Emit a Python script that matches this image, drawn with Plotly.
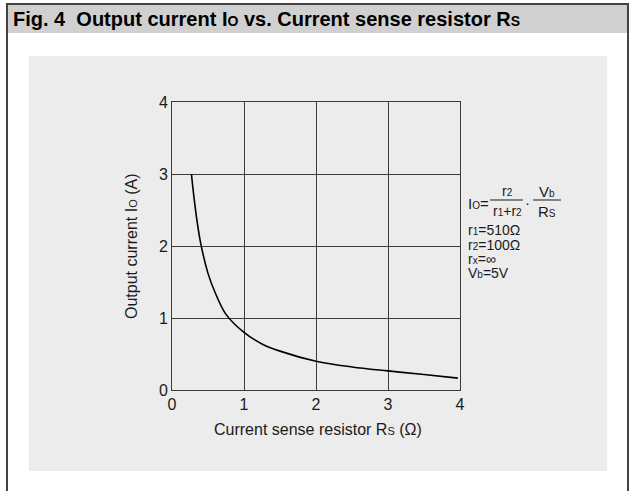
import plotly.graph_objects as go

# Data
rs_ohm = [0.27, 0.30, 0.35, 0.40, 0.50, 0.60, 0.75, 1.0, 1.25, 1.5, 2.0, 2.5, 3.0, 3.5, 3.97]
io_amp = [3.00, 2.72, 2.33, 2.03, 1.62, 1.35, 1.05, 0.80, 0.64, 0.54, 0.40, 0.32, 0.265, 0.215, 0.165]
x_ticks = [0, 1, 2, 3, 4]
y_ticks = [0, 1, 2, 3, 4]

W, H = 631, 491
FONT = "Liberation Sans, Arial, sans-serif"


def px(x):
    return x / W


def py(y):
    return 1 - y / H


fig = go.Figure()
fig.add_trace(go.Scatter(x=rs_ohm, y=io_amp, mode="lines",
                         line=dict(color="black", width=1.6, shape="spline"),
                         hoverinfo="skip"))

axis_common = dict(showgrid=True, gridcolor="#3a3a3a", gridwidth=1,
                   showline=True, linecolor="#3a3a3a", linewidth=1, mirror=True,
                   zeroline=False, ticks="", automargin=False,
                   tickfont=dict(family=FONT, size=16, color="#1a1a1a"))

fig.update_layout(
    width=W, height=H,
    margin=dict(l=0, r=0, t=0, b=0),
    paper_bgcolor="white", plot_bgcolor="white",
    showlegend=False,
    xaxis=dict(range=[0, 4], tickvals=x_ticks, domain=[px(172), px(460)], **axis_common),
    yaxis=dict(range=[0, 4], tickvals=y_ticks, domain=[py(390), py(102)], **axis_common),
)

shapes = [
    # inner gray panel
    dict(type="rect", xref="paper", yref="paper", x0=px(29), x1=px(607), y0=py(471), y1=py(56),
         fillcolor="#ececec", line=dict(width=0), layer="below"),
    # title band
    dict(type="rect", xref="paper", yref="paper", x0=px(6), x1=px(628), y0=py(33), y1=py(4),
         fillcolor="#d0d0d0", line=dict(width=0), layer="below"),
    # frame lines
    dict(type="line", xref="paper", yref="paper", x0=px(6), x1=px(629), y0=py(4), y1=py(4),
         line=dict(color="#444", width=2)),
    dict(type="line", xref="paper", yref="paper", x0=px(7), x1=px(7), y0=py(4), y1=py(491),
         line=dict(color="#444", width=2)),
    dict(type="line", xref="paper", yref="paper", x0=px(628), x1=px(628), y0=py(4), y1=py(491),
         line=dict(color="#444", width=2)),
    # fraction bars
    dict(type="line", xref="paper", yref="paper", x0=px(490), x1=px(523), y0=py(200), y1=py(200),
         line=dict(color="#1a1a1a", width=1)),
    dict(type="line", xref="paper", yref="paper", x0=px(533), x1=px(561), y0=py(200), y1=py(200),
         line=dict(color="#1a1a1a", width=1)),
]
fig.update_layout(shapes=shapes)

S = "<span style='font-size:10px'>%s</span>"
S16 = "<span style='font-size:11px'>%s</span>"


def ann(text, x, y, size=15, xanchor="left", color="#1a1a1a"):
    fig.add_annotation(text=text, xref="paper", yref="paper", x=px(x), y=py(y),
                       xanchor=xanchor, yanchor="middle", showarrow=False,
                       font=dict(family=FONT, size=size, color=color))


# Title
ann("<b>Fig. 4  Output current I<span style='font-size:14px'>O</span> vs. Current sense resistor R<span style='font-size:14px'>S</span></b>",
    11, 19, size=20, color="black")

# Axis titles
ann("Current sense resistor R" + S16 % "S" + " (Ω)", 318, 429, size=16, xanchor="center")
fig.add_annotation(text="Output current I" + S16 % "O" + " (A)", xref="paper", yref="paper",
                   x=px(132), y=py(246), textangle=-90, showarrow=False,
                   xanchor="center", yanchor="middle",
                   font=dict(family=FONT, size=16, color="#1a1a1a"))

# Formula
ann("I" + S % "O" + "=", 466, 203)
ann("r" + S % "2", 507, 191, xanchor="center", size=14)
ann("r" + S % "1" + "+r" + S % "2", 507, 211, xanchor="center", size=14)
ann("·", 527, 202, xanchor="center")
ann("V" + S % "b", 547, 191, xanchor="center")
ann("R" + S % "S", 547, 211, xanchor="center")
ann("r" + S % "1" + "=510Ω", 466, 230, size=14)
ann("r" + S % "2" + "=100Ω", 466, 245, size=14)
ann("r" + S % "x" + "=∞", 466, 259, size=14)
ann("V" + S % "b" + "=5V", 466, 273, size=14)

fig.write_html("out.html", config={"displayModeBar": False},
               post_script="document.body.style.margin='0';")
